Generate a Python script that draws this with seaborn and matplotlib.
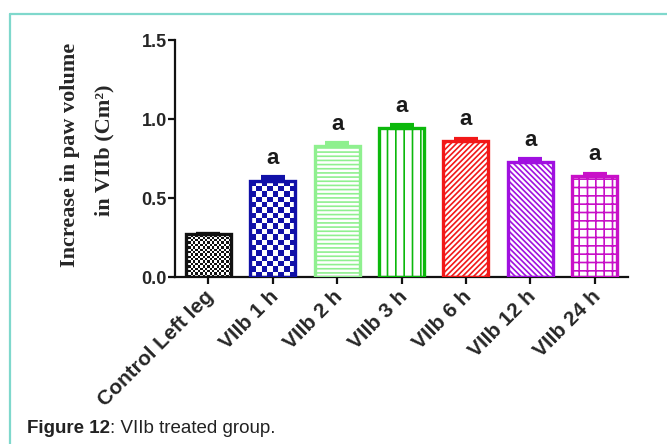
import numpy as np
import pandas as pd
import matplotlib
matplotlib.use("Agg")
import matplotlib.pyplot as plt
import matplotlib.transforms as mtransforms
from matplotlib.lines import Line2D
import seaborn as sns

# Paw-volume increase per group (mean and SEM)
groups = ["Control Left leg", "VIIb 1 h", "VIIb 2 h", "VIIb 3 h",
          "VIIb 6 h", "VIIb 12 h", "VIIb 24 h"]
means = [0.27, 0.61, 0.83, 0.94, 0.86, 0.73, 0.64]
sems = [0.005, 0.02, 0.015, 0.02, 0.015, 0.015, 0.015]
sig_labels = ["", "a", "a", "a", "a", "a", "a"]

colors = ["#111111", "#1010a8", "#8ff08f", "#0cb80c", "#f21818", "#a010e0", "#c810c8"]
hatches = [None, None, "----", "||", "//////", "\\\\\\\\\\\\", "++"]
# checkerboard fills (cell size in pixels) for the first two groups
checker_px = [2.4, 5.5, None, None, None, None, None]

sns.set_style("white")
plt.rcParams["hatch.linewidth"] = 1.2

fig = plt.figure(figsize=(6.67, 4.44), dpi=100)
ax = fig.add_axes([175 / 667, 1 - 277 / 444, 453 / 667, 237 / 444])

df = pd.DataFrame({"group": groups, "value": means})
sns.barplot(data=df, x="group", y="value", hue="group", palette=colors,
            legend=False, width=0.7, ax=ax, errorbar=None)

ax.set_xlim(-0.52, 6.52)
ax.set_ylim(0, 1.5)
fig.canvas.draw()
bars = [c.patches[0] for c in ax.containers]
for i, bar in enumerate(bars):
    col = colors[i]
    bar.set_facecolor("none")
    bar.set_edgecolor(col)
    bar.set_linewidth(2.4)
    bar.set_zorder(3)
    if hatches[i]:
        bar.set_hatch(hatches[i])
    if checker_px[i]:
        x0, w, h = bar.get_x(), bar.get_width(), bar.get_height()
        p0 = ax.transData.transform((x0, 0))
        p1 = ax.transData.transform((x0 + w, h))
        nc = max(2, int(round(abs(p1[0] - p0[0]) / checker_px[i])))
        nr = max(2, int(round(abs(p1[1] - p0[1]) / checker_px[i])))
        board = (np.add.outer(np.arange(nr), np.arange(nc)) % 2).astype(float)
        cmap = matplotlib.colors.ListedColormap(["white", col])
        mesh = ax.pcolormesh(np.linspace(x0, x0 + w, nc + 1),
                             np.linspace(0, h, nr + 1), board, cmap=cmap,
                             vmin=0, vmax=1, zorder=2, antialiased=False,
                             linewidth=0)
        mesh.set_clip_path(bar)

    cx = bar.get_x() + bar.get_width() / 2
    ax.errorbar(cx, means[i], yerr=[[0], [sems[i]]], color=col, capsize=8.5,
                capthick=3, elinewidth=2.4, zorder=4, fmt="none")
    if sig_labels[i]:
        ax.annotate(sig_labels[i], (cx, means[i] + sems[i]), xytext=(0, 6),
                    textcoords="offset points", ha="center", va="bottom",
                    fontsize=16, fontfamily="Liberation Sans",
                    fontweight="bold", color="#1a1a1a")

ax.set_yticks([0, 0.5, 1.0, 1.5])
ax.set_yticklabels(["0.0", "0.5", "1.0", "1.5"])
ax.set_xlabel("")
ax.set_ylabel("")
sns.despine(ax=ax)
for s in ("left", "bottom"):
    ax.spines[s].set_linewidth(1.6)
    ax.spines[s].set_color("#111111")
ax.tick_params(axis="both", which="major", direction="out", length=5, width=1.6,
               color="#111111", bottom=True, left=True, pad=1)
for lab in ax.get_yticklabels():
    lab.set_fontfamily("Liberation Sans")
    lab.set_fontweight("bold")
    lab.set_fontsize(13)
ax.set_xticks(range(len(groups)))
ax.set_xticklabels(groups, rotation=45, ha="right", rotation_mode="anchor",
                   fontfamily="Liberation Sans", fontweight="bold", fontsize=15)
ax.tick_params(axis="x", pad=2)
shift = mtransforms.ScaledTranslation(-4 / 100, 0, fig.dpi_scale_trans)
for lab in ax.get_xticklabels():
    lab.set_transform(lab.get_transform() + shift)

# two-line axis title
fig.text(70 / 667, 1 - 155 / 444, "Increase in paw volume", rotation=90,
         ha="center", va="center", fontfamily="Liberation Serif",
         fontweight="bold", fontsize=16)
fig.text(104 / 667, 1 - 150 / 444, "in VIIb (Cm²)", rotation=90,
         ha="center", va="center", fontfamily="Liberation Serif",
         fontweight="bold", fontsize=16)

# frame lines and caption
teal = "#7fd8cc"
fig.add_artist(Line2D([10 / 667, 1.0], [1 - 14 / 444, 1 - 14 / 444],
                      transform=fig.transFigure, color=teal, lw=1.6))
fig.add_artist(Line2D([10 / 667, 10 / 667], [0.0, 1 - 14 / 444],
                      transform=fig.transFigure, color=teal, lw=1.6))
fig.text(27 / 667, 1 - 433 / 444, "Figure 12", ha="left", va="baseline",
         fontfamily="Liberation Sans", fontweight="bold", fontsize=13.5,
         color="#222222")
fig.canvas.draw()
t = fig.texts[-1]
bb = t.get_window_extent()
fig.text(bb.x1 / fig.bbox.width, 1 - 433 / 444, ": VIIb treated group.",
         ha="left", va="baseline", fontfamily="Liberation Sans",
         fontsize=13.5, color="#222222")

fig.savefig("out.png", dpi=100, facecolor="white")
